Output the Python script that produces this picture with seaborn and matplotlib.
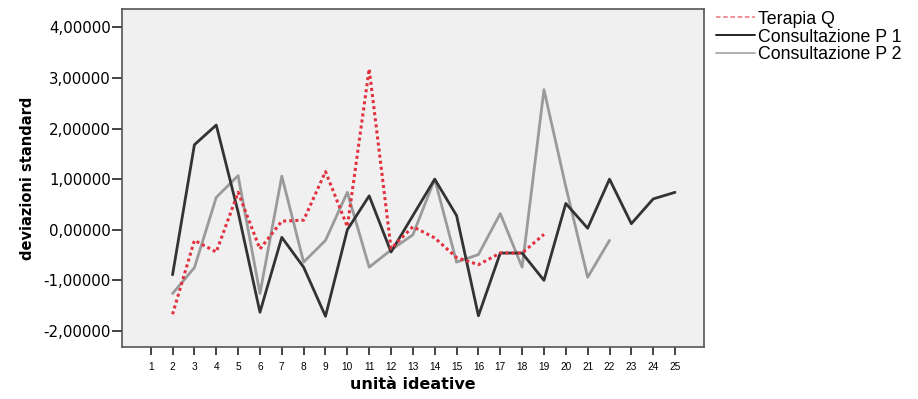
import numpy as np
import pandas as pd
import seaborn as sns
import matplotlib.pyplot as plt
from matplotlib.lines import Line2D

# values
x_terapia = list(range(2, 20))
terapia_q = [-1.67, -0.21, -0.44, 0.74, -0.38, 0.17, 0.19, 1.15, 0.06, 3.18,
             -0.37, 0.06, -0.16, -0.55, -0.69, -0.46, -0.46, -0.09]

x_p1 = list(range(2, 26))
consult_p1 = [-0.89, 1.68, 2.07, 0.35, -1.63, -0.15, -0.74, -1.71, 0.0, 0.67,
              -0.44, 0.28, 1.0, 0.28, -1.70, -0.46, -0.46, -1.0, 0.52, 0.03,
              1.0, 0.12, 0.61, 0.74]

x_p2 = list(range(2, 23))
consult_p2 = [-1.26, -0.75, 0.64, 1.07, -1.26, 1.06, -0.64, -0.21, 0.74, -0.74,
              -0.40, -0.10, 1.0, -0.64, -0.49, 0.32, -0.74, 2.77, 0.85, -0.94,
              -0.21]

x_ticks = list(range(1, 26))
y_ticks = [-2, -1, 0, 1, 2, 3, 4]
y_tick_labels = ["-2,00000", "-1,00000", "0,00000", "1,00000", "2,00000",
                 "3,00000", "4,00000"]

red = "#e2323f"
dark = "#333333"
grey = "#9a9a9a"

sns.set_style("white")
plt.rcParams["font.family"] = ["DejaVu Sans"]
plt.rcParams["text.color"] = "black"
plt.rcParams["axes.labelcolor"] = "black"
plt.rcParams["xtick.color"] = "black"
plt.rcParams["ytick.color"] = "black"

fig = plt.figure(figsize=(9.18, 3.99), dpi=100)
ax = fig.add_axes([0.133, 0.130, 0.634, 0.847])
ax.set_facecolor("#f0f0f0")

sns.lineplot(x=x_terapia, y=terapia_q, ax=ax, color=red, linewidth=2.2,
             linestyle=(0, (1, 1)), zorder=3)
sns.lineplot(x=x_p1, y=consult_p1, ax=ax, color=dark, linewidth=2.0, zorder=2)
sns.lineplot(x=x_p2, y=consult_p2, ax=ax, color=grey, linewidth=2.0, zorder=1)

ax.set_xlim(-0.31, 26.33)
ax.set_ylim(-2.32, 4.36)
ax.set_xticks(x_ticks)
ax.set_xticklabels([str(t) for t in x_ticks], fontsize=7.3,
                   family="Liberation Sans")
ax.set_yticks(y_ticks)
ax.set_yticklabels(y_tick_labels, fontsize=10.8)
ax.tick_params(axis="x", direction="out", length=6, width=1.2, color="#222222",
               pad=5, bottom=True)
ax.tick_params(axis="y", direction="out", length=7, width=1.2, color="#222222",
               pad=1, left=True)

for s in ax.spines.values():
    s.set_visible(True)
    s.set_color("#555555")
    s.set_linewidth(1.2)

ax.set_xlabel("unità ideative", fontsize=11.5, fontweight="bold", labelpad=3)
ax.set_ylabel("deviazioni standard", fontsize=10.5, fontweight="bold",
              labelpad=6)

handles = [
    Line2D([], [], color="#ee8890", linewidth=1.3, linestyle=(0, (2.5, 1.5))),
    Line2D([], [], color="#111111", linewidth=1.3),
    Line2D([], [], color="#aaaaaa", linewidth=1.3),
]
labels = ["Terapia Q", "Consultazione P 1", "Consultazione P 2"]
fig.legend(handles, labels, loc="upper left", bbox_to_anchor=(0.768, 1.0),
           frameon=False, labelspacing=0.05, handlelength=2.2,
           handletextpad=0.2, borderaxespad=0.2,
           prop={"family": "Liberation Sans", "size": 12.8})

fig.savefig("out.png", dpi=100)
